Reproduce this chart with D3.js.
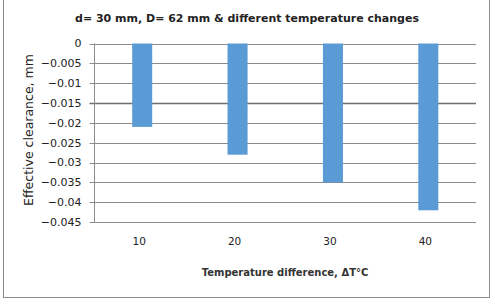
<!DOCTYPE html>
<html>
<head>
<meta charset="utf-8">
<script src="https://cdn.jsdelivr.net/npm/d3@7"></script>
<style>
  body { margin: 0; background: #fff; }
  text { font-family: "DejaVu Sans", Verdana, sans-serif; }
</style>
</head>
<body>
<svg id="chart" width="495" height="304"></svg>
<script>
const categories = ['10', '20', '30', '40'];
const clearance = [-0.021, -0.028, -0.035, -0.042];
const yTicks = [0, -0.005, -0.01, -0.015, -0.02, -0.025, -0.03, -0.035, -0.04, -0.045];

const svg = d3.select('#chart');
const width = +svg.attr('width');
const height = +svg.attr('height');

const margin = {top: 43.5, right: 19, bottom: 82, left: 94.5};

// outer frame, top edge is cut off in the original
svg.append('rect')
  .attr('x', 3.5)
  .attr('y', -2)
  .attr('width', 486)
  .attr('height', 299.5)
  .attr('fill', 'none')
  .attr('stroke', '#8c8c8c')
  .attr('stroke-width', 1);

const x = d3.scaleBand()
  .domain(categories)
  .range([margin.left, width - margin.right])
  .paddingInner(0.79)
  .paddingOuter(0.395);

const y = d3.scaleLinear()
  .domain([0, -0.045])
  .range([margin.top, height - margin.bottom + 0.2]);

// gridlines
svg.append('g')
  .selectAll('line')
  .data(yTicks)
  .enter()
  .append('line')
  .attr('x1', margin.left - 5)
  .attr('x2', width - margin.right)
  .attr('y1', (d) => Math.round(y(d)) + 0.5)
  .attr('y2', (d) => Math.round(y(d)) + 0.5)
  .attr('stroke', (d) => d === -0.015 ? '#6e6e6e' : '#8c8c8c')
  .attr('stroke-width', (d) => d === -0.015 ? 1.6 : 1);

// y axis line
svg.append('line')
  .attr('x1', margin.left)
  .attr('x2', margin.left)
  .attr('y1', y(0))
  .attr('y2', Math.round(y(-0.045)) + 0.5)
  .attr('stroke', '#8c8c8c');

// y tick labels
svg.append('g')
  .selectAll('text')
  .data(yTicks)
  .enter()
  .append('text')
  .attr('x', margin.left - 13)
  .attr('y', (d) => y(d))
  .attr('dy', '0.35em')
  .attr('text-anchor', 'end')
  .attr('font-size', 11)
  .attr('fill', '#222')
  .text((d) => d === 0 ? '0' : d3.format('')(+d.toFixed(3)));

// bars
svg.append('g')
  .selectAll('rect')
  .data(clearance)
  .enter()
  .append('rect')
  .attr('x', (d, i) => x(categories[i]))
  .attr('y', y(0))
  .attr('width', x.bandwidth())
  .attr('height', (d) => y(d) - y(0))
  .attr('fill', '#5b9bd5');

// x tick labels
svg.append('g')
  .selectAll('text')
  .data(categories)
  .enter()
  .append('text')
  .attr('x', (d) => x(d) + x.bandwidth() / 2 - 3)
  .attr('y', 241)
  .attr('dy', '0.35em')
  .attr('text-anchor', 'middle')
  .attr('font-size', 10.5)
  .attr('fill', '#222')
  .text((d) => d);

// title
svg.append('text')
  .attr('x', 247)
  .attr('y', 18)
  .attr('dy', '0.35em')
  .attr('text-anchor', 'middle')
  .attr('font-size', 11)
  .attr('font-weight', 'bold')
  .attr('fill', '#222')
  .text('d= 30 mm, D= 62 mm & different temperature changes');

// axis titles
svg.append('text')
  .attr('transform', 'translate(29,130) rotate(-90)')
  .attr('dy', '0.35em')
  .attr('text-anchor', 'middle')
  .attr('font-size', 12.5)
  .attr('fill', '#222')
  .text('Effective clearance, mm');

svg.append('text')
  .attr('x', 285)
  .attr('y', 272)
  .attr('dy', '0.35em')
  .attr('text-anchor', 'middle')
  .attr('font-size', 10)
  .attr('font-weight', 'bold')
  .attr('fill', '#333')
  .text('Temperature difference, \u0394T\u00B0C');
</script>
</body>
</html>
